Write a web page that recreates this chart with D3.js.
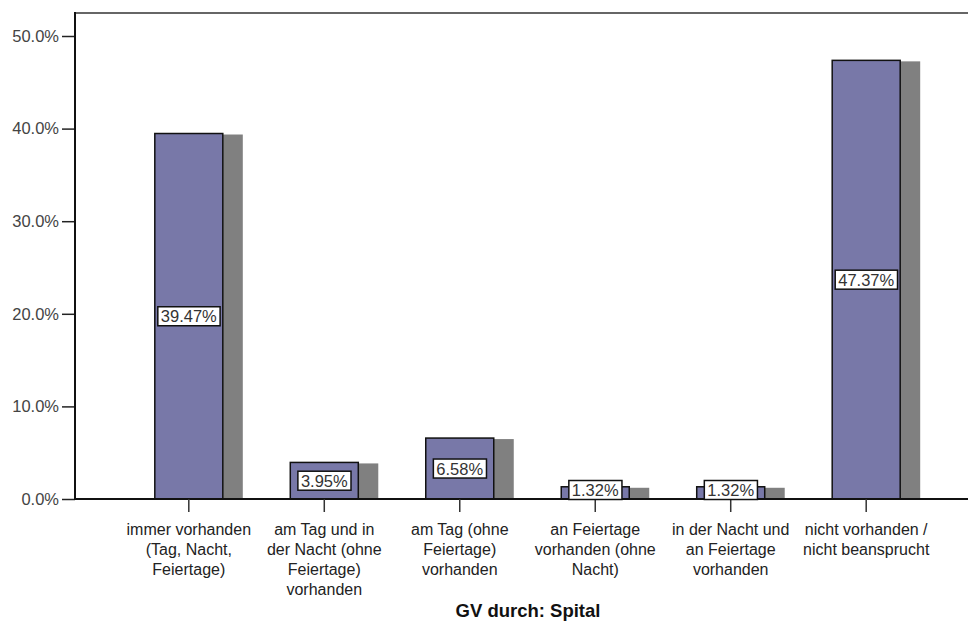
<!DOCTYPE html>
<html><head><meta charset="utf-8">
<script src="https://cdn.jsdelivr.net/npm/d3@7"></script>
<style>body{margin:0;background:#fff}svg{display:block;font-family:"Liberation Sans",Arial,sans-serif}</style>
</head><body>
<svg id="c" width="968" height="624"></svg>
<script>
const categories = [
  ["immer vorhanden","(Tag, Nacht,","Feiertage)"],
  ["am Tag und in","der Nacht (ohne","Feiertage)","vorhanden"],
  ["am Tag (ohne","Feiertage)","vorhanden"],
  ["an Feiertage","vorhanden (ohne","Nacht)"],
  ["in der Nacht und","an Feiertage","vorhanden"],
  ["nicht vorhanden /","nicht beansprucht"]
];
const values = [39.47, 3.95, 6.58, 1.32, 1.32, 47.37];
const yTicks = [0, 10, 20, 30, 40, 50];
const xTitle = "GV durch: Spital";

(function(){
const svg = d3.select("#c");
const L = 75, R = 980, T = 13, B = 499;
const x = d3.scaleBand().domain(d3.range(categories.length)).range([L, R]).paddingInner(0.5).paddingOuter(0.59);
const y = d3.scaleLinear().domain([0, 50]).range([B, 36]);
const bw = 68;
const cx = i => x(i) + x.bandwidth()/2;

svg.append("line").attr("x1", L).attr("x2", 968).attr("y1", T).attr("y2", T).attr("stroke", "#666").attr("stroke-width", 2);

svg.selectAll("rect.sh").data(values).join("rect").attr("class","sh")
  .attr("x", (d,i) => cx(i) + bw/2).attr("width", 20)
  .attr("y", d => y(d) + 1).attr("height", d => B - y(d) - 1)
  .attr("fill", "#808080");
svg.selectAll("rect.bar").data(values).join("rect").attr("class","bar")
  .attr("x", (d,i) => cx(i) - bw/2).attr("width", bw)
  .attr("y", d => y(d)).attr("height", d => B - y(d))
  .attr("fill", "#7878a8").attr("stroke", "#111").attr("stroke-width", 1.5);

const ya = svg.append("g").attr("transform", `translate(${L},0)`)
  .call(d3.axisLeft(y).tickValues(yTicks).tickFormat(d => d.toFixed(1) + "%").tickSize(13).tickPadding(3));
ya.select(".domain").remove();
ya.selectAll(".tick line").attr("stroke", "#222").attr("stroke-width", 1.5);
ya.selectAll(".tick text").attr("fill", "#444").style("font-size", "16.5px").style("font-family", "Liberation Sans, Arial, sans-serif");
svg.append("line").attr("x1", L).attr("x2", L).attr("y1", T - 1).attr("y2", B + 1).attr("stroke", "#111").attr("stroke-width", 2);

svg.append("line").attr("x1", L).attr("x2", 968).attr("y1", B).attr("y2", B).attr("stroke", "#111").attr("stroke-width", 2);
svg.selectAll("line.xt").data(values).join("line").attr("class","xt")
  .attr("x1", (d,i) => cx(i)).attr("x2", (d,i) => cx(i))
  .attr("y1", B).attr("y2", B + 13).attr("stroke", "#333").attr("stroke-width", 1.5);

categories.forEach((lines, i) => {
  const t = svg.append("text").attr("text-anchor", "middle").attr("fill", "#222").style("font-size", "16px");
  lines.forEach((l, k) => t.append("tspan").attr("x", cx(i)).attr("y", 535 + k * 20).text(l));
});

svg.append("text").attr("x", 528).attr("y", 617).attr("text-anchor", "middle")
  .style("font-size", "18.5px").style("font-weight", "bold").attr("fill", "#111").text(xTitle);

values.forEach((v, i) => {
  let my = (y(v) + B) / 2;
  my = Math.min(my, B - 9);
  const g = svg.append("g");
  const txt = g.append("text").attr("x", cx(i)).attr("y", my + 6).attr("text-anchor", "middle")
    .attr("fill", "#333").style("font-size", "16.5px").text(v.toFixed(2) + "%");
  const bb = txt.node().getBBox();
  g.insert("rect", "text").attr("x", bb.x - 3).attr("y", my - 9.5).attr("width", bb.width + 6).attr("height", 19)
    .attr("fill", "#fff").attr("stroke", "#111").attr("stroke-width", 1.5);
});
})();
</script>
</body></html>
